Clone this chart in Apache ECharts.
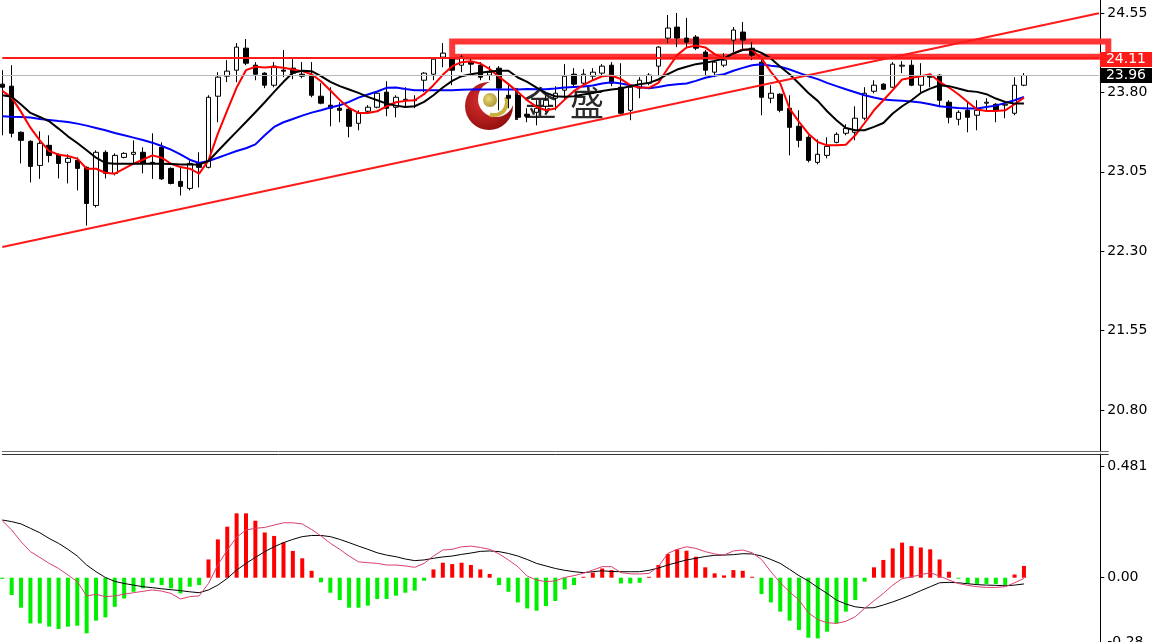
<!DOCTYPE html>
<html>
<head>
<meta charset="utf-8">
<script src="https://cdn.jsdelivr.net/npm/echarts@6/dist/echarts.min.js"></script>
<style>
html,body{margin:0;padding:0;background:#fff;}
#chart{width:1152px;height:642px;}
</style>
</head>
<body>
<div id="chart"></div>
<script>
// ---------- data ----------
const categories = Array.from({length: 119}, (_, i) => String(i));

const opens = [23.878,23.859,23.423,23.338,23.110,23.300,23.215,23.139,23.158,23.092,
22.732,23.234,23.035,23.186,23.215,23.234,23.139,23.281,23.082,22.959,
22.893,23.129,23.092,23.764,23.953,24.010,24.218,24.057,23.982,23.868,
24.010,24.029,23.972,23.963,23.764,23.679,23.650,23.641,23.508,23.622,
23.660,23.802,23.660,23.726,23.726,23.915,23.972,24.133,24.114,24.057,
24.086,24.057,23.963,24.029,23.773,23.773,23.594,23.612,23.669,23.745,
23.821,23.972,23.887,23.953,23.982,24.057,23.849,23.631,23.840,23.887,
24.048,24.313,24.417,24.313,24.323,24.181,23.991,24.057,24.294,24.370,
24.218,24.086,23.745,23.783,23.650,23.480,23.376,23.139,23.205,23.328,
23.414,23.423,23.556,23.811,23.878,23.849,24.048,24.057,23.868,23.953,
23.963,23.707,23.546,23.631,23.584,23.698,23.688,23.679,23.603,23.868];

const closes = [23.849,23.414,23.347,23.101,23.319,23.205,23.129,23.177,23.082,22.751,
23.234,23.035,23.205,23.224,23.234,23.129,23.135,22.983,22.940,22.912,
23.129,23.092,23.754,23.944,24.001,24.228,24.076,23.972,23.868,24.048,
24.001,23.982,23.953,23.773,23.698,23.650,23.631,23.480,23.603,23.660,
23.792,23.650,23.754,23.735,23.722,23.982,24.114,24.171,24.010,24.133,
24.067,23.944,23.991,23.840,23.745,23.565,23.575,23.650,23.726,23.792,
23.953,23.878,23.972,23.991,24.048,23.887,23.603,23.849,23.915,23.963,
24.228,24.408,24.313,24.275,24.218,24.010,24.086,24.105,24.389,24.294,
24.152,23.754,23.792,23.631,23.470,23.347,23.158,23.215,23.290,23.404,
23.461,23.556,23.792,23.868,23.830,24.067,24.057,23.868,23.953,23.944,
23.726,23.565,23.612,23.565,23.631,23.707,23.631,23.688,23.868,23.960];

const lows = [23.395,23.376,23.129,22.949,22.983,23.139,22.987,22.940,22.874,22.542,
22.713,22.987,23.016,23.177,23.129,23.035,22.983,22.974,22.931,22.826,
22.874,22.902,23.082,23.518,23.897,23.897,24.057,23.915,23.840,23.849,
23.944,23.925,23.934,23.754,23.688,23.480,23.518,23.376,23.442,23.612,
23.650,23.575,23.565,23.660,23.650,23.802,23.915,24.038,23.868,23.991,
23.982,23.915,23.915,23.631,23.650,23.556,23.518,23.489,23.612,23.631,
23.726,23.849,23.849,23.915,23.963,23.859,23.594,23.537,23.745,23.868,
23.953,24.266,24.228,24.218,24.200,23.963,23.944,24.038,24.181,24.200,
24.105,23.584,23.698,23.612,23.205,23.281,23.139,23.120,23.177,23.319,
23.395,23.347,23.537,23.792,23.821,23.840,23.982,23.859,23.802,23.849,
23.660,23.508,23.489,23.423,23.442,23.631,23.518,23.556,23.584,23.859];

const highs = [24.010,24.057,23.432,23.347,23.432,23.395,23.224,23.215,23.186,23.101,
23.253,23.253,23.224,23.234,23.347,23.281,23.414,23.328,23.092,23.092,
23.158,23.234,23.773,23.991,24.105,24.266,24.304,24.086,23.991,24.086,
24.200,24.114,24.086,24.086,23.887,23.849,23.707,23.660,23.631,23.679,
23.802,23.906,23.773,23.849,23.773,23.991,24.124,24.266,24.133,24.152,
24.124,24.086,24.048,24.048,23.878,23.783,23.650,23.726,23.773,23.859,
24.067,24.029,24.020,24.029,24.067,24.086,24.076,23.859,23.944,23.982,
24.237,24.531,24.550,24.503,24.342,24.200,24.105,24.171,24.417,24.465,
24.275,24.105,23.868,23.792,23.773,23.631,23.395,23.357,23.376,23.423,
23.499,23.669,23.849,23.915,23.887,24.086,24.095,24.105,24.076,23.963,
23.972,23.726,23.631,23.707,23.726,23.745,23.698,23.698,23.944,23.982];

const maFast = [23.814,23.751,23.616,23.467,23.347,23.246,23.212,23.199,23.174,23.079,
23.079,23.041,23.032,23.079,23.126,23.164,23.205,23.183,23.126,23.095,
23.079,23.032,23.158,23.410,23.631,23.846,24.010,24.042,24.035,24.042,
24.032,24.016,24.001,23.972,23.906,23.818,23.729,23.653,23.606,23.606,
23.622,23.669,23.707,23.720,23.726,23.783,23.868,23.966,24.048,24.086,
24.095,24.073,24.020,23.947,23.878,23.805,23.726,23.663,23.631,23.647,
23.732,23.814,23.868,23.915,23.953,23.960,23.925,23.868,23.846,23.843,
23.890,24.026,24.152,24.225,24.244,24.225,24.162,24.121,24.168,24.206,
24.200,24.121,23.994,23.884,23.647,23.521,23.410,23.331,23.300,23.300,
23.306,23.395,23.511,23.631,23.726,23.821,23.922,23.938,23.953,23.972,
23.900,23.846,23.783,23.710,23.638,23.625,23.625,23.631,23.688,23.751];

const maMid = [23.773,23.758,23.685,23.606,23.568,23.527,23.458,23.385,23.322,23.253,
23.183,23.133,23.126,23.126,23.126,23.126,23.126,23.126,23.123,23.120,
23.120,23.117,23.152,23.246,23.338,23.429,23.521,23.612,23.707,23.805,
23.900,23.985,24.004,24.001,23.953,23.900,23.859,23.827,23.795,23.758,
23.726,23.694,23.675,23.663,23.669,23.710,23.773,23.846,23.909,23.953,
23.972,23.985,23.997,24.004,24.004,23.941,23.900,23.846,23.795,23.764,
23.758,23.764,23.780,23.795,23.814,23.827,23.836,23.859,23.878,23.890,
23.922,23.972,24.016,24.042,24.067,24.080,24.098,24.121,24.168,24.200,
24.209,24.174,24.121,24.042,23.972,23.884,23.795,23.720,23.622,23.537,
23.464,23.442,23.442,23.474,23.511,23.600,23.669,23.726,23.795,23.836,
23.868,23.859,23.836,23.814,23.805,23.783,23.742,23.710,23.694,23.694];

const maSlow = [23.575,23.571,23.568,23.562,23.549,23.540,23.530,23.521,23.505,23.486,
23.464,23.442,23.417,23.395,23.373,23.350,23.325,23.294,23.259,23.215,
23.164,23.133,23.152,23.183,23.215,23.246,23.272,23.309,23.395,23.474,
23.518,23.549,23.581,23.609,23.631,23.657,23.679,23.710,23.751,23.780,
23.808,23.843,23.846,23.833,23.821,23.821,23.821,23.821,23.821,23.824,
23.827,23.827,23.827,23.827,23.827,23.827,23.833,23.830,23.830,23.836,
23.846,23.852,23.855,23.865,23.884,23.896,23.884,23.868,23.852,23.840,
23.852,23.868,23.878,23.884,23.909,23.938,23.957,23.972,24.004,24.032,
24.057,24.067,24.051,24.042,24.016,23.985,23.953,23.925,23.890,23.859,
23.830,23.802,23.773,23.751,23.732,23.726,23.720,23.713,23.704,23.688,
23.669,23.660,23.653,23.647,23.647,23.663,23.675,23.701,23.726,23.758];

const macdHist = [-0.005,-0.075,-0.130,-0.198,-0.198,-0.212,-0.222,-0.212,-0.208,-0.241,
-0.186,-0.172,-0.126,-0.090,-0.061,-0.046,-0.022,-0.032,-0.046,-0.068,
-0.039,-0.032,0.079,0.166,0.221,0.279,0.279,0.247,0.196,0.181,
0.153,0.116,0.084,0.030,-0.020,-0.065,-0.097,-0.130,-0.130,-0.121,
-0.092,-0.092,-0.078,-0.065,-0.056,-0.013,0.036,0.065,0.059,0.065,
0.055,0.036,0.016,-0.032,-0.061,-0.107,-0.133,-0.143,-0.123,-0.101,
-0.051,-0.032,0.004,0.022,0.040,0.033,-0.025,-0.025,-0.022,0.004,
0.055,0.103,0.123,0.117,0.091,0.045,0.019,0.010,0.033,0.030,
0.004,-0.071,-0.107,-0.147,-0.186,-0.227,-0.260,-0.263,-0.234,-0.198,
-0.147,-0.097,-0.017,0.045,0.077,0.127,0.152,0.137,0.131,0.123,
0.079,0.026,-0.004,-0.025,-0.027,-0.027,-0.027,-0.032,0.014,0.051];

const macdSlowLine = [0.250,0.243,0.233,0.214,0.195,0.170,0.149,0.123,0.094,0.055,
0.026,0.001,-0.016,-0.025,-0.032,-0.039,-0.043,-0.048,-0.052,-0.056,
-0.061,-0.065,-0.053,-0.032,-0.003,0.033,0.062,0.088,0.113,0.134,
0.152,0.166,0.178,0.183,0.183,0.178,0.166,0.152,0.137,0.123,
0.108,0.098,0.091,0.081,0.074,0.077,0.084,0.090,0.094,0.101,
0.107,0.114,0.116,0.113,0.105,0.094,0.079,0.062,0.051,0.040,
0.032,0.026,0.022,0.026,0.030,0.027,0.026,0.026,0.026,0.032,
0.042,0.055,0.066,0.077,0.084,0.092,0.097,0.098,0.100,0.104,
0.103,0.094,0.079,0.062,0.036,0.009,-0.014,-0.042,-0.068,-0.097,
-0.114,-0.126,-0.131,-0.130,-0.118,-0.105,-0.090,-0.074,-0.056,-0.039,
-0.022,-0.020,-0.022,-0.026,-0.030,-0.032,-0.033,-0.035,-0.032,-0.027];

const macdFastLine = [0.247,0.207,0.156,0.113,0.088,0.062,0.040,0.012,-0.017,-0.079,
-0.072,-0.082,-0.079,-0.071,-0.065,-0.059,-0.053,-0.058,-0.068,-0.092,
-0.082,-0.079,-0.025,0.055,0.120,0.175,0.207,0.214,0.218,0.228,
0.238,0.238,0.233,0.209,0.181,0.149,0.123,0.094,0.069,0.065,
0.062,0.055,0.055,0.051,0.045,0.062,0.094,0.120,0.123,0.134,
0.137,0.131,0.123,0.103,0.077,0.048,0.007,-0.010,-0.017,-0.014,
0.001,0.009,0.019,0.033,0.048,0.048,0.022,0.017,0.016,0.019,
0.048,0.105,0.123,0.134,0.127,0.113,0.103,0.098,0.116,0.120,
0.108,0.079,0.026,-0.022,-0.061,-0.097,-0.152,-0.181,-0.195,-0.198,
-0.189,-0.169,-0.133,-0.100,-0.068,-0.032,-0.004,0.004,0.013,0.022,
0.007,-0.010,-0.025,-0.033,-0.039,-0.042,-0.042,-0.039,-0.022,-0.003];

const priceTicks = [24.55, 23.80, 23.05, 22.30, 21.55, 20.80];
const macdTicks = [0.481, 0, -0.28];
const macdTickLabels = ['0.481', '0.00', '-0.28'];

// annotations (category index, price)
const trendLine = [[0, 22.339], [117, 24.548]];
const resistanceLevel = 24.13;
const currentPrice = 23.96;
const zoneBox = {from: 48, to: 118, top: 24.280, bottom: 24.138};
const priceTags = [
  {value: 23.96, text: '23.96', bg: '#000000'},
  {value: 24.11, text: '24.11', bg: '#ff1a1a'}
];

// ---------- chart ----------
const candles = opens.map((o, i) => [o, closes[i], lows[i], highs[i]]);
const FONT = 'DejaVu Sans';

const chart = echarts.init(document.getElementById('chart'), null, {renderer: 'canvas'});

const markLineData = [
  [{coord: [String(trendLine[0][0]), trendLine[0][1]], lineStyle: {color: '#ff1a1a', width: 2}},
   {coord: [String(trendLine[1][0]), trendLine[1][1]]}],
  [{coord: ['0', resistanceLevel], lineStyle: {color: '#ff1a1a', width: 2}},
   {coord: ['117', resistanceLevel]}],
  [{coord: ['0', currentPrice], lineStyle: {color: '#b8b8b8', width: 1}},
   {coord: ['117', currentPrice]}]
];

const tagLineData = priceTags.map(t => [
  {coord: ['116', t.value],
   label: {show: true, position: 'end', distance: 1, formatter: t.text,
           color: '#ffffff', backgroundColor: t.bg, fontFamily: FONT, fontSize: 14,
           lineHeight: 14, padding: [1, 8, 0, 6]}},
  {coord: ['117', t.value]}
]);

const option = {
  animation: false,
  backgroundColor: '#ffffff',
  grid: [
    {left: 2.3, top: 0, width: 1106, height: 451, outerBoundsMode: 'none', containLabel: false},
    {left: 2.3, top: 454, width: 1106, height: 190, outerBoundsMode: 'none', containLabel: false}
  ],
  xAxis: [
    {gridIndex: 0, type: 'category', data: categories, boundaryGap: false,
     axisLine: {show: true, onZero: false, lineStyle: {color: '#6a6a6a', width: 1}},
     axisTick: {show: false}, axisLabel: {show: false}, splitLine: {show: false}},
    {gridIndex: 1, type: 'category', data: categories, boundaryGap: false, position: 'top',
     axisLine: {show: true, onZero: false, lineStyle: {color: '#333333', width: 1}},
     axisTick: {show: false}, axisLabel: {show: false}, splitLine: {show: false}}
  ],
  yAxis: [
    {gridIndex: 0, type: 'value', position: 'right', offset: -8,
     min: 20.412, max: 24.673,
     axisLine: {show: true, lineStyle: {color: '#000', width: 1}},
     axisTick: {show: true, length: 4, customValues: priceTicks, lineStyle: {color: '#000'}},
     axisLabel: {customValues: priceTicks, formatter: v => Number(v).toFixed(2),
                 margin: 7, color: '#000', fontFamily: FONT, fontSize: 14},
     splitLine: {show: false}},
    {gridIndex: 1, type: 'value', position: 'right', offset: -8,
     min: -0.2872, max: 0.536,
     axisLine: {show: true, lineStyle: {color: '#000', width: 1}},
     axisTick: {show: true, length: 4, customValues: macdTicks, lineStyle: {color: '#000'}},
     axisLabel: {customValues: macdTicks,
                 formatter: v => { const k = macdTicks.findIndex(t => Math.abs(t - v) < 1e-6); return k >= 0 ? macdTickLabels[k] : ''; },
                 margin: 7, color: '#000', fontFamily: FONT, fontSize: 14},
     splitLine: {show: false}}
  ],
  series: [
    {name: 'price', type: 'candlestick', xAxisIndex: 0, yAxisIndex: 0, data: candles,
     barWidth: 5, z: 2,
     itemStyle: {color: '#ffffff', color0: '#000000', borderColor: '#000000', borderColor0: '#000000', borderWidth: 1}},
    {name: 'MA fast', type: 'line', xAxisIndex: 0, yAxisIndex: 0, data: maFast, symbol: 'none',
     lineStyle: {color: '#ff0000', width: 2}, z: 4},
    {name: 'MA mid', type: 'line', xAxisIndex: 0, yAxisIndex: 0, data: maMid, symbol: 'none',
     lineStyle: {color: '#000000', width: 2}, z: 4},
    {name: 'MA slow', type: 'line', xAxisIndex: 0, yAxisIndex: 0, data: maSlow, symbol: 'none',
     lineStyle: {color: '#0000ff', width: 2}, z: 3},
    {name: 'annotations', type: 'line', xAxisIndex: 0, yAxisIndex: 0, data: closes, symbol: 'none',
     lineStyle: {opacity: 0}, silent: true, z: 6,
     markArea: {silent: true,
       itemStyle: {color: 'rgba(0,0,0,0)', borderColor: '#ff3535', borderWidth: 6},
       label: {show: false},
       data: [[{coord: [String(zoneBox.from), zoneBox.top]}, {coord: [String(zoneBox.to), zoneBox.bottom]}]]},
     markLine: {silent: true, symbol: ['none', 'none'], label: {show: false},
       lineStyle: {type: 'solid'}, data: markLineData}},
    {name: 'price tags', type: 'line', xAxisIndex: 0, yAxisIndex: 0, data: closes, symbol: 'none',
     lineStyle: {opacity: 0}, silent: true, z: 8,
     markLine: {silent: true, symbol: ['none', 'none'],
       lineStyle: {type: 'solid', color: 'rgba(255,255,255,0)', width: 0},
       data: tagLineData}},
    {name: 'MACD hist', type: 'bar', xAxisIndex: 1, yAxisIndex: 1, data: macdHist, barWidth: 4,
     itemStyle: {color: p => (p.value >= 0 ? '#ff0000' : '#00ee00')}},
    {name: 'MACD slow', type: 'line', xAxisIndex: 1, yAxisIndex: 1, data: macdSlowLine, symbol: 'none',
     lineStyle: {color: '#000000', width: 1}, z: 4},
    {name: 'MACD fast', type: 'line', xAxisIndex: 1, yAxisIndex: 1, data: macdFastLine, symbol: 'none',
     lineStyle: {color: '#d9406c', width: 1}, z: 4}
  ],
  graphic: [
    {type: 'group', z: 100, children: [
      {type: 'circle', shape: {cx: 489, cy: 106, r: 24},
       style: {fill: {type: 'radial', x: 0.4, y: 0.4, r: 0.7,
               colorStops: [{offset: 0, color: '#e03030'}, {offset: 1, color: '#8a0c0c'}]}}},
      {type: 'circle', shape: {cx: 496, cy: 99, r: 18}, style: {fill: '#ffffff'}},
      {type: 'arc', shape: {cx: 494, cy: 102, r: 13, startAngle: -0.4, endAngle: 1.9},
       style: {stroke: '#c9b040', lineWidth: 4, fill: null}},
      {type: 'circle', shape: {cx: 490, cy: 100, r: 7},
       style: {fill: {type: 'radial', x: 0.4, y: 0.4, r: 0.7,
               colorStops: [{offset: 0, color: '#eadb7a'}, {offset: 1, color: '#a8902a'}]}}},
      {type: 'rect', shape: {x: 515, y: 88, width: 3, height: 32}, style: {fill: '#2a2a2a'}},
      {type: 'text', x: 523, y: 86, style: {text: '金', fill: '#2a2a2a', font: '34px "Noto Sans CJK SC"'}},
      {type: 'text', x: 570, y: 86, style: {text: '盛', fill: '#2a2a2a', font: '34px "Noto Sans CJK SC"'}}
    ]}
  ]
};
chart.setOption(option);
</script>
</body>
</html>
